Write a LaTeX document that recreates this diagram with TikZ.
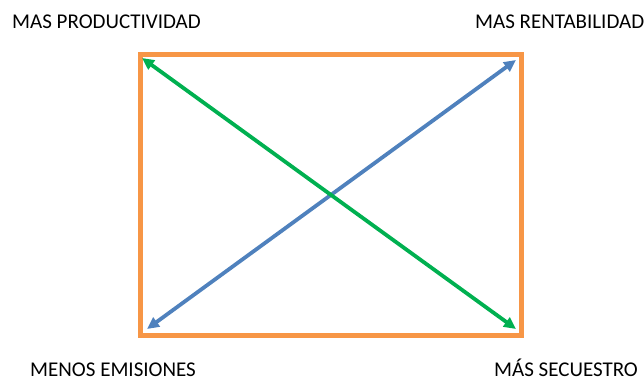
\documentclass[tikz,border=0pt]{standalone}
\usepackage{fontspec}
\setmainfont{Carlito}
\usetikzlibrary{arrows.meta,positioning}
\definecolor{frameOrange}{HTML}{F79646}
\definecolor{arrowBlue}{HTML}{4F81BD}
\definecolor{arrowGreen}{HTML}{00B050}
\tikzset{
  >={Triangle[length=12pt,width=11pt]},
  boxFrame/.style={draw=frameOrange,line width=5pt},
  diagArrow/.style={<->,line width=3.8pt},
  cornerLabel/.style={font=\fontsize{21}{24}\selectfont,inner sep=0pt,anchor=base west},
}
\begin{document}
\begin{tikzpicture}[x=1pt,y=1pt]
\useasboundingbox (0,0) rectangle (644,382);

% Frame
\draw[boxFrame] (140,327) rectangle (521,46);

% Arrow ends
\coordinate (tl) at (142,324);
\coordinate (tr) at (516,322);
\coordinate (bl) at (147,53);
\coordinate (br) at (516,53);

% ===== Corner labels =====
\node[cornerLabel] (prod) at (12,353) {MAS PRODUCTIVIDAD};
\node[cornerLabel] (rent) at (475,353) {MAS RENTABILIDAD};
\node[cornerLabel] (emis) at (30,5) {MENOS EMISIONES};
\node[cornerLabel] (secu) at (494,5) {MÁS SECUESTRO};

% ===== Diagonals =====
\draw[diagArrow,draw=arrowBlue,fill=arrowBlue] (bl) -- (tr);
\draw[diagArrow,draw=arrowGreen,fill=arrowGreen] (tl) -- (br);

\end{tikzpicture}
\end{document}
